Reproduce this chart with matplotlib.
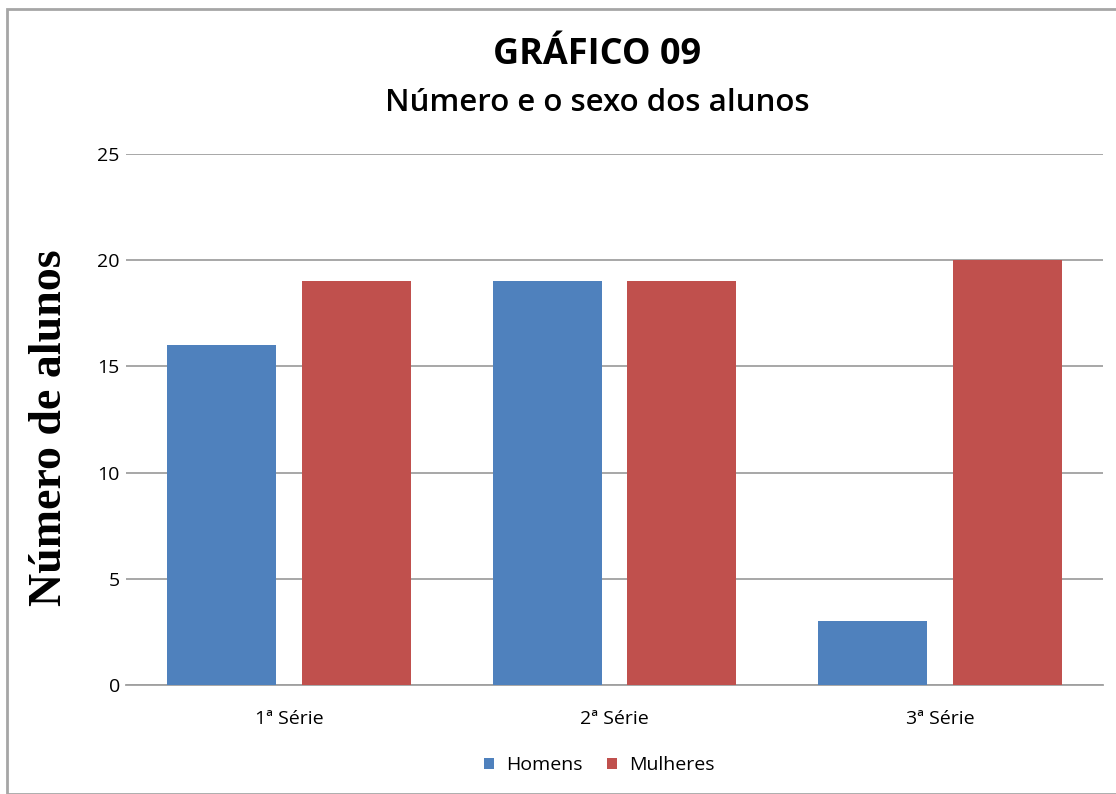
import numpy as np
import matplotlib.pyplot as plt
from matplotlib.patches import Rectangle

# Data
categorias = ['1ª Série', '2ª Série', '3ª Série']
homens = [16, 19, 3]
mulheres = [19, 19, 20]
yticks = [0, 5, 10, 15, 20, 25]

azul = '#4f81bd'
vermelho = '#c0504d'

plt.rcParams['font.family'] = ['Open Sans', 'DejaVu Sans']

fig = plt.figure(figsize=(11.16, 7.94), dpi=100)
# frame around the chart
fig.patches.append(Rectangle((7/1116, 0), 1.0, 1 - 9/794, transform=fig.transFigure,
                             fill=False, edgecolor='#a6a6a6', linewidth=2))

ax = fig.add_axes([126/1116, 1 - 685/794, (1103-126)/1116, (685-154)/794])
x = np.arange(len(categorias))
w = 0.335
d = 0.207
ax.bar(x - d, homens, w, color=azul, label='Homens', zorder=3)
ax.bar(x + d, mulheres, w, color=vermelho, label='Mulheres', zorder=3)

ax.set_xlim(-0.5, 2.5)
ax.set_ylim(0, 25)
ax.set_yticks(yticks)
ax.set_xticks(x)
ax.set_xticklabels(categorias, fontsize=14)
ax.tick_params(axis='y', labelsize=14, length=0, pad=4.5)
ax.tick_params(axis='x', length=0, pad=18)
ax.grid(axis='y', color='#a0a0a0', linewidth=1.3, zorder=0)
for s in ['top', 'right', 'left']:
    ax.spines[s].set_visible(False)
ax.spines['bottom'].set_color('#a0a0a0')
ax.spines['bottom'].set_linewidth(1.3)

# y label (serif, as in the original)
fig.text(50/1116, 1 - 428/794, 'Número de alunos', family='Liberation Serif',
         fontweight='bold', fontsize=33, rotation=90, ha='center', va='center')

fig.text(0.535, 1 - 55/794, 'GRÁFICO 09', ha='center', va='center',
         fontsize=26, fontweight='bold')
fig.text(0.535, 1 - 103/794, 'Número e o sexo dos alunos', ha='center', va='center',
         fontsize=22.5, fontweight='semibold')

fig.legend(loc='center', bbox_to_anchor=(0.537, 1 - 765/794), ncol=2, frameon=False,
           fontsize=14, handlelength=0.5, handleheight=0.5, handletextpad=0.6,
           columnspacing=1.3)

fig.savefig('out.png', dpi=100)
